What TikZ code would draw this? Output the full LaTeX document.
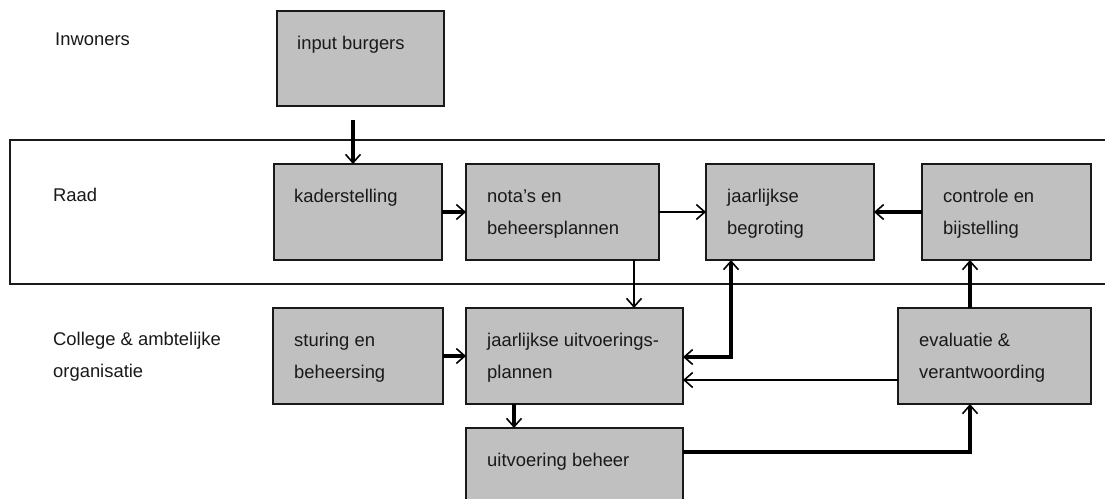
\documentclass[tikz,border=0pt]{standalone}
\usepackage{fontspec}
\setmainfont{Liberation Sans}
\usetikzlibrary{arrows.meta,calc}
\begin{document}
\begin{tikzpicture}[x=1pt,y=-1pt,
  box/.style={draw=black!90,line width=1.5pt,fill=boxgray,anchor=north west,inner sep=0pt,outer sep=0pt},
  txt/.style={anchor=base west,inner sep=0pt,align=left,font=\fontsize{18.4}{32}\selectfont,text=black!90},
  tip/.tip={Straight Barb[length=8.5pt,width=15pt,line width=1.6pt]},
  thin/.style={line width=2pt,-tip},
  thick/.style={line width=4pt,-tip}
]
\definecolor{boxgray}{HTML}{C0C0C0}
\useasboundingbox (0,0) rectangle (1105,498);
\fill[white] (0,0) rectangle (1105,498);
% Raad frame (open at right)
\draw[line width=1.5pt,black!90] (1106,140) -- (10,140) -- (10,284) -- (1106,284);
% labels
\node[txt] (linw) at (55,45) {Inwoners};
\node[txt] (lraad) at (53,201) {Raad};
\node[txt] (lcoll) at (53,377) {College \& ambtelijke\\organisatie};
% boxes
\node[box,minimum width=167pt,minimum height=95pt] (inp) at (277,11) {};
\node[box,minimum width=168pt,minimum height=96pt] (kad) at (274,164) {};
\node[box,minimum width=193pt,minimum height=96pt] (nota) at (466,164) {};
\node[box,minimum width=168pt,minimum height=96pt] (begr) at (706,164) {};
\node[box,minimum width=169pt,minimum height=96pt] (contr) at (922,164) {};
\node[box,minimum width=170pt,minimum height=96pt] (stur) at (273,308) {};
\node[box,minimum width=217pt,minimum height=96pt] (uitvp) at (466,308) {};
\node[box,minimum width=193pt,minimum height=96pt] (evalu) at (898,308) {};
\node[box,draw=none,minimum width=217pt,minimum height=72pt] (uitvb) at (466,428) {};
\draw[line width=1.5pt,black!90] (uitvb.south west) -- (uitvb.north west) -- (uitvb.north east) -- (uitvb.south east);
% box texts
\node[txt] (tinp) at ($(inp.north west)+(20,38)$) {input burgers};
\node[txt] (tkad) at ($(kad.north west)+(20,38)$) {kaderstelling};
\node[txt] (tnota) at ($(nota.north west)+(21,70)$) {nota’s en\\beheersplannen};
\node[txt] (tbegr) at ($(begr.north west)+(21,70)$) {jaarlijkse\\begroting};
\node[txt] (tcontr) at ($(contr.north west)+(21,70)$) {controle en\\bijstelling};
\node[txt] (tstur) at ($(stur.north west)+(21,70)$) {sturing en\\beheersing};
\node[txt] (tuitvp) at ($(uitvp.north west)+(21,70)$) {jaarlijkse uitvoerings-\\plannen};
\node[txt] (tevalu) at ($(evalu.north west)+(21,70)$) {evaluatie \&\\verantwoording};
\node[txt] (tuitvb) at ($(uitvb.north west)+(21,38)$) {uitvoering beheer};
% connectors
\coordinate (s1) at (353,120);
\draw[thick] (s1) -- (s1 |- kad.north);
\draw[thick] (kad.east) -- (nota.west);
\draw[thin] (nota.east) -- (begr.west);
\draw[thick] (contr.west) -- (begr.east);
\coordinate (c5) at (634,0);
\draw[thin] (c5 |- nota.south) -- (c5 |- uitvp.north);
\draw[thick] (stur.east) -- (stur.east -| uitvp.west);
\coordinate (c7) at (731,357);
\draw[line width=4pt,tip-tip] (c7 -| uitvp.east) -- (c7) -- (c7 |- begr.south);
\coordinate (c8) at (0,380);
\draw[thin] (c8 -| evalu.west) -- (c8 -| uitvp.east);
\coordinate (c9) at (970,0);
\draw[thick] (c9 |- evalu.north) -- (c9 |- contr.south);
\coordinate (c10) at (514,0);
\draw[thick] (c10 |- uitvp.south) -- (c10 |- uitvb.north);
\coordinate (c11) at (970,452);
\draw[thick] (c11 -| uitvb.east) -- (c11) -- (c11 |- evalu.south);
\end{tikzpicture}
\end{document}
